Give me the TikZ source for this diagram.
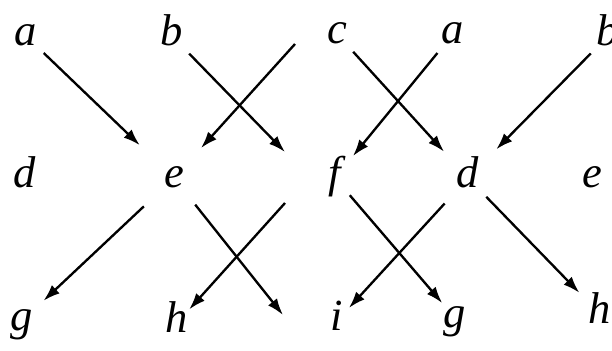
\documentclass[tikz,border=0pt]{standalone}
\usepackage{fontspec}
\setmainfont{Liberation Serif}
\usetikzlibrary{arrows.meta}
\tikzset{
  >={Latex[length=5mm,width=3.4mm]},
  lt/.style={circle,inner sep=0pt,font=\fontsize{38}{44}\selectfont\itshape,text height=27pt,text depth=10pt},
  arr/.style={->,line width=2pt},
}
\begin{document}
\begin{tikzpicture}[x=0.03cm,y=-0.03cm]
  \useasboundingbox (0,0) rectangle (612,350);
  % top row
  \node[lt] (a1) at (26,36) {a};
  \node[lt] (b1) at (172,36) {b};
  \node[lt] (c) at (337,34) {c};
  \node[lt] (a2) at (453,34) {a};
  \node[lt] (b2) at (608,36) {b};
  % middle row
  \node[lt] (d1) at (25,178) {d};
  \node[lt] (e1) at (174,178) {e};
  \node[lt] (f) at (335,178) {f};
  \node[lt] (d2) at (468,178) {d};
  \node[lt] (e2) at (592,178) {e};
  % bottom row
  \node[lt] (g1) at (22,321) {g};
  \node[lt] (h1) at (177,323) {h};
  \node[lt] (i) at (337,321) {i};
  \node[lt] (g2) at (455,318) {g};
  \node[lt] (h2) at (600,314) {h};
  % free ends
  \coordinate (p1) at (285,152);
  \coordinate (p2) at (295,44);
  \coordinate (p3) at (283,315);
  \coordinate (p4) at (285,203);
  \draw[arr,shorten >=0.7cm] (a1) -- (e1);
  \draw[arr] (b1) -- (p1);
  \draw[arr,shorten >=0.49cm] (p2) -- (e1);
  \draw[arr,shorten >=0.33cm] (c) -- (d2);
  \draw[arr,shorten >=0.17cm] (a2) -- (f);
  \draw[arr,shorten >=0.47cm] (b2) -- (d2);
  \draw[arr,shorten <=0.52cm,shorten >=0.15cm] (e1) -- (g1);
  \draw[arr,shorten <=0.3cm] (e1) -- (p3);
  \draw[arr,shorten >=-0.19cm] (p4) -- (h1);
  \draw[arr,shorten >=-0.15cm] (f) -- (g2);
  \draw[arr,shorten <=0.3cm,shorten >=-0.15cm] (d2) -- (i);
  \draw[arr,shorten <=0.05cm,shorten >=0.15cm] (d2) -- (h2);
\end{tikzpicture}
\end{document}
